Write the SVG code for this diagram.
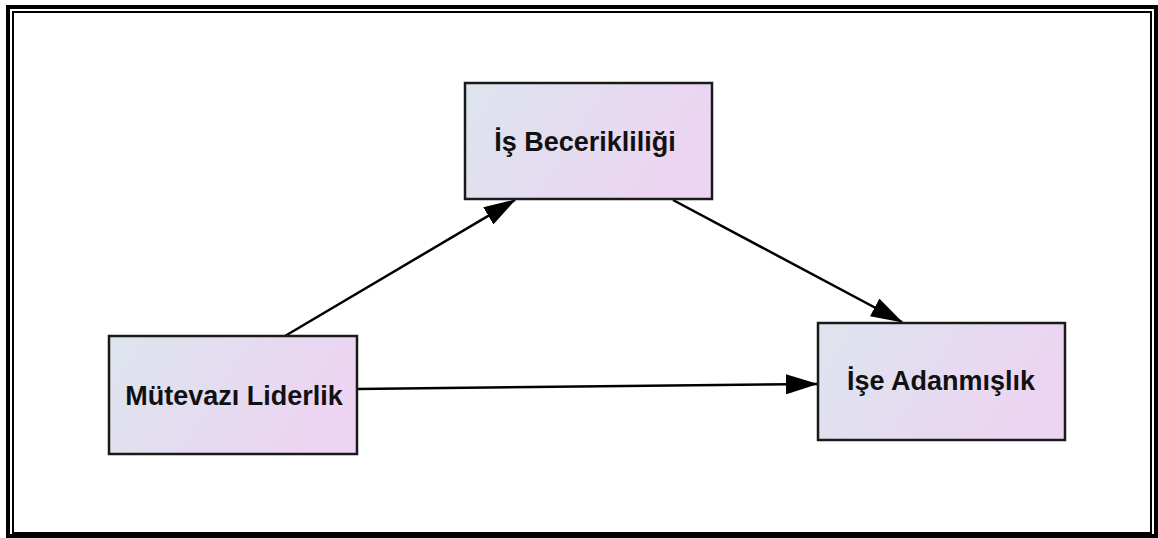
<svg xmlns="http://www.w3.org/2000/svg" width="1158" height="538" viewBox="0 0 1158 538">
<style>
.frame{fill:none;stroke:#000}
.node rect{fill:url(#g);stroke:#1a1a1a;stroke-width:2.5}
.node text{font-family:"Liberation Sans",Arial,sans-serif;font-weight:bold;font-size:27px;fill:#111;text-anchor:middle}
.edge{stroke:#000;stroke-width:2.5;fill:none;marker-end:url(#ah)}
</style>
<defs>
<linearGradient id="g" x1="0" y1="0" x2="1" y2="0.3">
<stop offset="0" stop-color="#dde5ee"/>
<stop offset="1" stop-color="#ecd4f2"/>
</linearGradient>
<marker id="ah" viewBox="0 0 32 20" refX="31" refY="10" markerWidth="32" markerHeight="20" markerUnits="userSpaceOnUse" orient="auto">
<path d="M0,0 L32,10 L0,20 z" fill="#000"/>
</marker>
</defs>
<rect class="frame" x="8" y="7" width="1148" height="529" stroke-width="4"/>
<rect class="frame" x="13" y="12" width="1138" height="521" stroke-width="2"/>
<g id="connectors">
<line class="edge" x1="285" y1="336" x2="515" y2="200"/>
<line class="edge" x1="673" y1="200" x2="902" y2="322"/>
<line class="edge" x1="357" y1="389" x2="817" y2="384"/>
</g>
<g id="node-mutevazi" class="node">
<rect x="109" y="336" width="248" height="118"/>
<text x="234" y="405">Mütevazı Liderlik</text>
</g>
<g id="node-beceriklilik" class="node">
<rect x="465" y="83" width="247" height="116"/>
<text x="585" y="151">İş Becerikliliği</text>
</g>
<g id="node-adanmislik" class="node">
<rect x="818" y="323" width="247" height="117"/>
<text x="941" y="390">İşe Adanmışlık</text>
</g>
</svg>
